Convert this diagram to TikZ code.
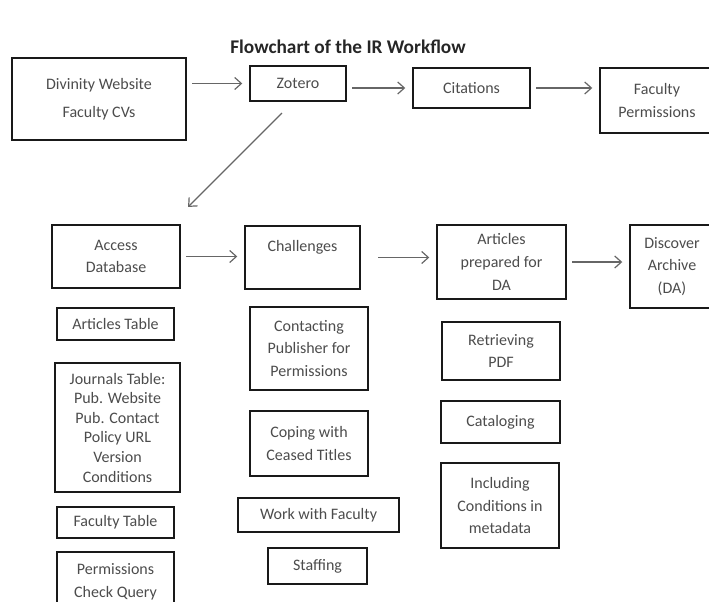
\documentclass[tikz,border=0pt]{standalone}
\usepackage{fontspec}
\setmainfont{Carlito}
\usetikzlibrary{arrows.meta,calc}
\begin{document}
\begin{tikzpicture}[x=0.75pt,y=0.75pt,yscale=-1,xscale=1,
	box/.style 2 args={draw=black!90, line width=1.6pt, inner sep=0pt, align=center,
		minimum width=#1*0.75pt, minimum height=#2*0.75pt, text=black!70,
		font=\fontsize{12}{17}\selectfont},
	flow/.style={draw=black!60, line width=0.9pt, -{Straight Barb[length=5pt,width=9pt]},
		shorten <=4pt, shorten >=5pt}]
	\useasboundingbox (0,0) rectangle (709,602);
	
	% Title
	\node [font=\bfseries\fontsize{14.5}{17}\selectfont, text=black!85] (title) at (348,47) {Flowchart of the IR Workflow};
	
	% Top row
	\node [box={174}{82}] (div) at (99,99) {Divinity Website\\[4pt]Faculty CVs};
	\node [box={96}{35}] (zot) at (298,83.5) {Zotero};
	\node [box={117}{40}] (cit) at (471.5,88) {Citations};
	\node [box={114}{65}] (perm) at (657,100.5) {Faculty\\Permissions};
	
	% Second row
	\node [box={128}{63}] (acc) at (116,256.5) {Access\\Database};
	\node [box={115}{63}] (chal) at (302.5,257.5) {Challenges\\\mbox{}};
	\node [box={129}{74}] (art) at (501.5,262) {Articles\\prepared for\\DA};
	\node [box={84}{83}] (disc) at (672,266.5) {Discover\\Archive\\(DA)};
	
	% Access Database column
	\node [box={117}{32}] (artt) at (115.5,324) {Articles Table};
	\node [box={125}{129}, font=\fontsize{12}{14.7}\selectfont] (jour) at (117.5,427.5) {Journals Table:\\Pub. Website\\Pub. Contact\\Policy URL\\Version\\Conditions};
	\node [box={117}{31}] (fact) at (115.5,522.5) {Faculty Table};
	\node [box={117}{60}] (pcq) at (115.5,582) {Permissions\\Check Query};
	
	% Challenges column
	\node [box={118}{83}] (cpp) at (309,348.5) {Contacting\\Publisher for\\Permissions};
	\node [box={118}{65}] (cop) at (309,443.5) {Coping with\\Ceased Titles};
	\node [box={161}{34}] (wwf) at (318.5,515) {Work with Faculty};
	\node [box={99}{36}] (stf) at (317.5,566) {Staffing};
	
	% Articles column
	\node [box={118}{58}] (ret) at (501,351) {Retrieving\\PDF};
	\node [box={119}{42}] (cat) at (500.5,422) {Cataloging};
	\node [box={118}{85}] (inc) at (500,505.5) {Including\\Conditions in\\metadata};
	
	% Arrows
	\draw [flow] (div.east |- zot) -- (zot.west);
	\draw [flow] (zot.east |- cit) -- (cit.west);
	\draw [flow] (cit.east) -- (cit.east -| perm.west);
	\draw [flow, shorten <=11.7pt, shorten >=18pt] ($(zot.south)+(-5,0)$) -- ($(acc.north east)+(-10,0)$);
	\draw [flow] (acc.east) -- (acc.east -| chal.west);
	\draw [flow, shorten <=13pt] (chal.east) -- (chal.east -| art.west);
	\draw [flow] (art.east) -- (art.east -| disc.west);
	
\end{tikzpicture}
\end{document}
